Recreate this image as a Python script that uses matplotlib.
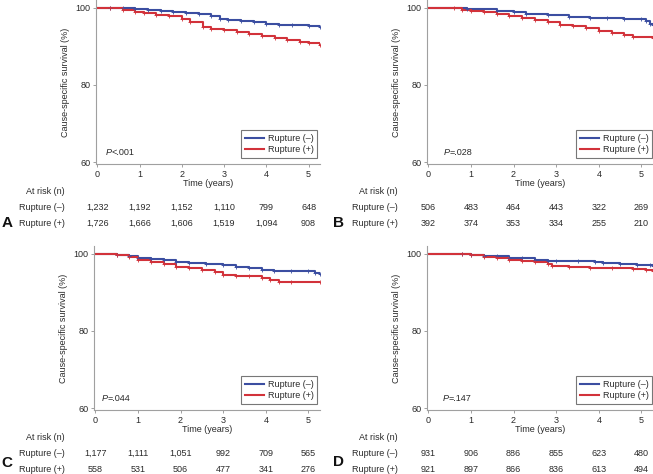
import matplotlib.pyplot as plt
import matplotlib.transforms as mtransforms

plt.rcParams['font.family'] = ['Liberation Sans', 'DejaVu Sans']

W, H = 653, 474
BLUE = '#3b4ea1'
RED = '#d2323a'
GREY = '#a0a0a0'
TXT = '#2a2a2a'
FS = 6.5

years = [0, 1, 2, 3, 4, 5]

# Kaplan-Meier curves (time in years, survival %)
a_neg_t = [0, 0.3, 0.6, 0.9, 1.2, 1.5, 1.8, 2.1, 2.4, 2.7, 2.9, 3.1, 3.4, 3.7, 4.0, 4.3, 4.6, 5.0, 5.26]
a_neg_s = [100, 99.9, 99.8, 99.6, 99.3, 99.1, 98.8, 98.6, 98.3, 97.8, 97.2, 96.9, 96.6, 96.2, 95.8, 95.6, 95.4, 95.3, 95.1]
a_pos_t = [0, 0.3, 0.6, 0.9, 1.1, 1.4, 1.7, 2.0, 2.2, 2.5, 2.7, 3.0, 3.3, 3.6, 3.9, 4.2, 4.5, 4.8, 5.0, 5.26]
a_pos_s = [100, 99.8, 99.5, 99.0, 98.6, 98.2, 97.8, 97.0, 96.4, 95.0, 94.6, 94.1, 93.6, 93.1, 92.7, 92.2, 91.6, 91.1, 90.8, 90.4]

b_neg_t = [0, 0.9, 1.6, 2.0, 2.3, 2.8, 3.3, 3.8, 4.2, 4.6, 5.0, 5.1, 5.2, 5.26]
b_neg_s = [100, 99.7, 99.1, 98.8, 98.3, 98.1, 97.7, 97.4, 97.3, 97.1, 97.0, 96.5, 95.8, 95.6]
b_pos_t = [0, 0.6, 0.8, 1.0, 1.3, 1.6, 1.9, 2.2, 2.5, 2.8, 3.1, 3.4, 3.7, 4.0, 4.3, 4.6, 4.8, 5.26]
b_pos_s = [100, 99.8, 99.5, 99.2, 98.9, 98.5, 97.9, 97.3, 96.8, 96.2, 95.6, 95.2, 94.7, 94.0, 93.5, 93.0, 92.3, 92.2]

c_neg_t = [0, 0.5, 0.8, 1.0, 1.3, 1.6, 1.9, 2.2, 2.6, 3.0, 3.3, 3.6, 3.9, 4.2, 4.6, 5.0, 5.15, 5.26]
c_neg_s = [100, 99.6, 99.3, 99.0, 98.7, 98.4, 97.9, 97.6, 97.4, 97.0, 96.5, 96.2, 95.8, 95.6, 95.5, 95.4, 95.1, 94.8]
c_pos_t = [0, 0.5, 0.8, 1.0, 1.3, 1.6, 1.9, 2.2, 2.5, 2.8, 3.0, 3.3, 3.6, 3.9, 4.1, 4.3, 4.6, 5.26]
c_pos_s = [100, 99.6, 99.1, 98.5, 97.9, 97.3, 96.6, 96.2, 95.8, 95.2, 94.6, 94.3, 94.1, 93.7, 93.3, 92.8, 92.7, 92.6]

d_neg_t = [0, 0.8, 1.0, 1.3, 1.6, 1.9, 2.2, 2.5, 2.8, 3.0, 3.5, 3.9, 4.1, 4.5, 4.9, 5.2, 5.26]
d_neg_s = [100, 99.8, 99.7, 99.5, 99.3, 99.0, 98.8, 98.5, 98.2, 98.1, 98.0, 97.8, 97.6, 97.4, 97.2, 97.0, 96.8]
d_pos_t = [0, 0.8, 1.0, 1.3, 1.6, 1.9, 2.2, 2.5, 2.8, 2.9, 3.3, 3.8, 4.3, 4.8, 5.1, 5.26]
d_pos_s = [100, 99.8, 99.6, 99.2, 98.9, 98.5, 98.2, 97.8, 97.3, 96.7, 96.5, 96.4, 96.3, 96.1, 95.9, 95.6]

# numbers at risk
a_risk_neg = ['1,232', '1,192', '1,152', '1,110', '799', '648']
a_risk_pos = ['1,726', '1,666', '1,606', '1,519', '1,094', '908']
b_risk_neg = ['506', '483', '464', '443', '322', '269']
b_risk_pos = ['392', '374', '353', '334', '255', '210']
c_risk_neg = ['1,177', '1,111', '1,051', '992', '709', '565']
c_risk_pos = ['558', '531', '506', '477', '341', '276']
d_risk_neg = ['931', '906', '886', '855', '623', '480']
d_risk_pos = ['921', '897', '866', '836', '613', '494']

p_values = ['<.001', '=.028', '=.044', '=.147']
letters = ['A', 'B', 'C', 'D']

fig = plt.figure(figsize=(W / 100, H / 100), dpi=100)


def fx(px):
    return px / W


def fy(py):
    return 1 - py / H


# panel boxes in pixels: left, right, top, bottom
boxes = [(96, 320, 0, 164), (427, 653, 0, 164), (94, 320, 246, 410), (427, 653, 246, 410)]
curves = [(a_neg_t, a_neg_s, a_pos_t, a_pos_s), (b_neg_t, b_neg_s, b_pos_t, b_pos_s),
          (c_neg_t, c_neg_s, c_pos_t, c_pos_s), (d_neg_t, d_neg_s, d_pos_t, d_pos_s)]
risks = [(a_risk_neg, a_risk_pos), (b_risk_neg, b_risk_pos),
         (c_risk_neg, c_risk_pos), (d_risk_neg, d_risk_pos)]
p_x = [0.19, 0.36, 0.14, 0.33]
label_right = [65, 398, 65, 398]
letter_pos = [(7, 223), (339, 223), (7, 463), (339, 462)]

for i, (l, r, t, b) in enumerate(boxes):
    ax = fig.add_axes([fx(l), fy(b), fx(r) - fx(l), fy(t) - fy(b)])
    nt, ns, pt, ps = curves[i]
    ax.plot(nt, ns, drawstyle='steps-post', color=BLUE, lw=1.5, label='Rupture (\u2013)')
    ax.plot(pt, ps, drawstyle='steps-post', color=RED, lw=1.5, label='Rupture (+)')
    ax.plot(nt[1:], ns[1:], ls='none', marker='+', ms=2.5, mew=0.6, color=BLUE)
    ax.plot(pt[1:], ps[1:], ls='none', marker='+', ms=2.5, mew=0.6, color=RED)
    ax.set_xlim(-0.03, 5.27)
    ax.set_ylim(59.5, 102)
    ax.set_xticks(years)
    ax.set_yticks([60, 80, 100])
    for s in ['top', 'right']:
        ax.spines[s].set_visible(False)
    for s in ['left', 'bottom']:
        ax.spines[s].set_color(GREY)
        ax.spines[s].set_linewidth(0.8)
    ax.tick_params(length=2.5, width=0.7, color=GREY, labelsize=FS, labelcolor=TXT, pad=1.5)
    ax.set_xlabel('Time (years)', fontsize=FS, color=TXT, labelpad=0)
    ax.set_ylabel('Cause-specific survival (%)', fontsize=FS, color=TXT, labelpad=4)

    # P value: italic P followed by the value
    ptxt = ax.text(p_x[i], 62.4, 'P', fontsize=FS, color=TXT, va='center', style='italic')
    ax.annotate(p_values[i], xy=(1, 0.5), xycoords=ptxt, fontsize=FS, color=TXT,
                va='center', ha='left')

    leg = ax.legend(loc='lower right', bbox_to_anchor=(fx(r - 3 if i % 2 == 0 else r - 1), fy(b - 6)),
                    bbox_transform=fig.transFigure, fontsize=FS, frameon=True, fancybox=False,
                    handlelength=2.1, handletextpad=0.4, borderpad=0.4, labelspacing=0.3,
                    borderaxespad=0)
    leg.get_frame().set_edgecolor('#555555')
    leg.get_frame().set_linewidth(0.8)
    for txt in leg.get_texts():
        txt.set_color(TXT)

    # number at risk table
    tr = mtransforms.blended_transform_factory(ax.transData, fig.transFigure)
    row_y = [b + 27, b + 43, b + 59]
    fig.text(fx(label_right[i]), fy(row_y[0]), 'At risk (n)', fontsize=FS, color=TXT, ha='right', va='center')
    fig.text(fx(label_right[i]), fy(row_y[1]), 'Rupture (\u2013)', fontsize=FS, color=TXT, ha='right', va='center')
    fig.text(fx(label_right[i]), fy(row_y[2]), 'Rupture (+)', fontsize=FS, color=TXT, ha='right', va='center')
    for k, yr in enumerate(years):
        ax.text(yr, fy(row_y[1]), risks[i][0][k], transform=tr, fontsize=FS, color=TXT,
                ha='center', va='center', clip_on=False)
        ax.text(yr, fy(row_y[2]), risks[i][1][k], transform=tr, fontsize=FS, color=TXT,
                ha='center', va='center', clip_on=False)
    lx, ly = letter_pos[i]
    fig.text(fx(lx), fy(ly), letters[i], fontsize=11, fontweight='bold',
             color='#111111', ha='center', va='center')

plt.savefig('out.png', dpi=100)
